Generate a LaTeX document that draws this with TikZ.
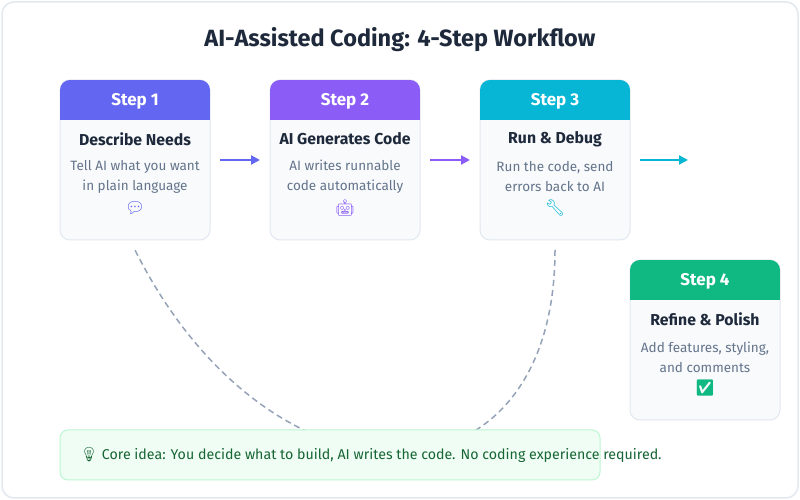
\documentclass[tikz,border=0pt]{standalone}
\usepackage{fontspec}
\setmainfont{Fira Sans}
\newfontfamily\emojifont{Noto Emoji}
\usetikzlibrary{positioning,arrows.meta,calc}
\definecolor{cone}{HTML}{6366F1}
\definecolor{ctwo}{HTML}{8B5CF6}
\definecolor{cthree}{HTML}{06B6D4}
\definecolor{cfour}{HTML}{10B981}
\definecolor{ink}{HTML}{1E293B}
\definecolor{muted}{HTML}{64748B}
\definecolor{edge}{HTML}{E2E8F0}
\definecolor{cardbg}{HTML}{F8FAFC}
\definecolor{tipbg}{HTML}{F0FDF4}
\definecolor{tipedge}{HTML}{BBF7D0}
\definecolor{tipink}{HTML}{166534}
\definecolor{loopc}{HTML}{94A3B8}
\tikzset{
  frame/.style={draw=edge, fill=white, line width=1.5pt, rounded corners=12pt},
  heading/.style={font=\fontsize{23.5}{28}\selectfont\bfseries, text=ink},
  card/.style={rectangle, rounded corners=10pt, draw=edge, fill=cardbg, line width=1pt,
               minimum width=150pt, minimum height=160pt, inner sep=0pt, outer sep=0pt},
  head/.style={font=\fontsize{17}{20}\selectfont\bfseries, text=white},
  ttl/.style={font=\fontsize{15.8}{19}\selectfont\bfseries, text=ink},
  desc/.style={font=\fontsize{13.5}{20}\selectfont, text=muted, align=center},
  icon/.style={font=\emojifont\fontsize{16}{18}\selectfont},
  flow/.style={-{Triangle[length=9pt, width=9pt]}, line width=2pt, shorten <=10pt},
  loopback/.style={draw=loopc, line width=1.5pt, dash pattern=on 6pt off 4pt},
  tip/.style={rectangle, rounded corners=8pt, draw=tipedge, fill=tipbg, line width=1pt,
              minimum width=540pt, minimum height=50pt, inner sep=0pt, outer sep=0pt},
  tiptext/.style={font=\fontsize{14.2}{17}\selectfont, text=tipink, inner sep=0pt}
}
\begin{document}
\begin{tikzpicture}[x=1pt, y=1pt]
\useasboundingbox (0,0) rectangle (800,500);
\draw[frame] (2,2) rectangle (798,498);
\node[heading] (title) at (400,460) {AI-Assisted Coding: 4-Step Workflow};
% cards
\node[card] (s1) at (135,340) {};
\node[card, right=60pt of s1] (s2) {};
\node[card, right=60pt of s2] (s3) {};
\node[card, below right=20pt and 0pt of s3.south east] (s4) {};
% feedback loop, behind the tip box
\draw[loopback] ([yshift=-10pt]s3.south) .. controls +(0,-270) and +(135,-270) .. ([yshift=-10pt]s1.south);
\foreach \n/\c/\k/\t/\a/\e in {
  s1/cone/1/{Describe Needs}/{Tell AI what you want\\in plain language}/💬,
  s2/ctwo/2/{AI Generates Code}/{AI writes runnable\\code automatically}/🤖,
  s3/cthree/3/{Run \& Debug}/{Run the code, send\\errors back to AI}/🔧,
  s4/cfour/4/{Refine \& Polish}/{Add features, styling,\\and comments}/✅}{
  \begin{scope}
    \clip[rounded corners=10pt] (\n.south west) rectangle (\n.north east);
    \fill[\c] (\n.north west) rectangle ([yshift=-40pt]\n.north east);
  \end{scope}
  \node[head] (\n-h) at ([yshift=-21pt]\n.north) {Step \k};
  \node[ttl] (\n-t) at ([yshift=-59pt]\n.north) {\t};
  \node[desc] (\n-d) at ([yshift=-97pt]\n.north) {\a};
  \node[icon, text=\c] (\n-i) at ([yshift=-128pt]\n.north) {\e};
}
% arrows
\coordinate (next) at ([xshift=58pt]s3.east);
\draw[flow, cone, shorten >=10pt] (s1.east) -- (s2.west);
\draw[flow, ctwo, shorten >=10pt] (s2.east) -- (s3.west);
\draw[flow, cthree] (s3.east) -- (next);
% tip
\node[tip, anchor=south west] (tipbox) at (60,20) {};
\node[tiptext, anchor=west] (tiptxt) at ([xshift=20pt]tipbox.west) {{\emojifont 💡} Core idea: You decide what to build, AI writes the code. No coding experience required.};
\end{tikzpicture}
\end{document}
